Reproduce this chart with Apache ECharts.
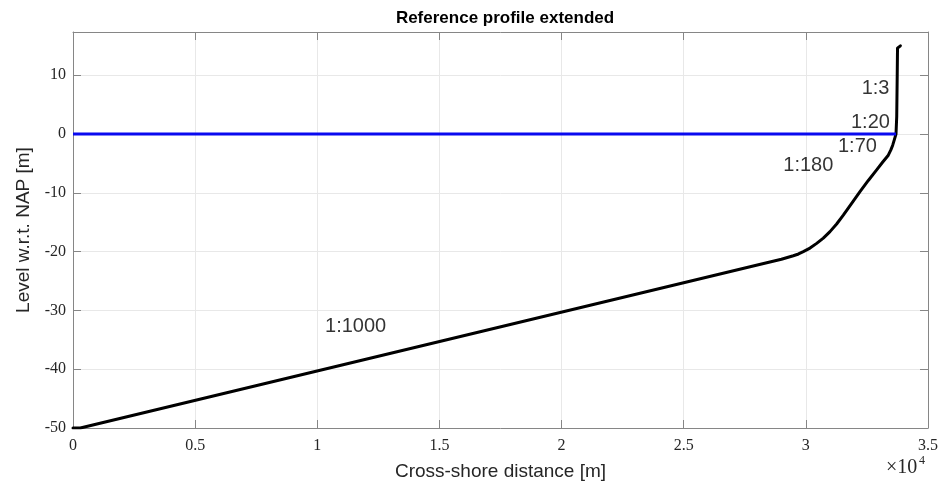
<!DOCTYPE html>
<html>
<head>
<meta charset="utf-8">
<script src="https://cdn.jsdelivr.net/npm/echarts@6/dist/echarts.min.js"></script>
<style>html,body{margin:0;padding:0;background:#fff}#c{width:950px;height:490px}</style>
</head>
<body>
<div id="c"></div>
<script>
// Profile (cross-shore distance [m], level w.r.t. NAP [m])
const profileX = [0, 300, 28100, 29000, 29486, 29700, 29895, 30170, 30443, 30715, 30988, 31260, 31533, 31875, 32216, 32557, 32898, 33140, 33375, 33480, 33555, 33620, 33690, 33720, 33740, 33752, 33800, 33870];
const profileY = [-50, -50, -22.2, -21.3, -20.7, -20.4, -20.0, -19.4, -18.6, -17.7, -16.6, -15.3, -13.8, -11.8, -9.8, -7.9, -6.1, -4.8, -3.6, -2.7, -1.9, -1.0, 0, 3, 10, 14.6, 14.9, 15];
// Water level line (NAP 0)
const waterX = [0, 33690];
const waterY = [0, 0];
// Slope annotations (anchor in data units, left/middle)
const slopeLabels = ['1:1000', '1:180', '1:70', '1:20', '1:3'];
const slopeLabelX = [10316, 29076, 31315, 31847, 32284];
const slopeLabelY = [-32.8, -5.4, -2.2, 1.9, 7.8];
// Axes
const xMin = 0, xMax = 35000, xStep = 5000;
const yMin = -50, yMax = 17.35, yStep = 10;

const chart = echarts.init(document.getElementById('c'), null, {renderer: 'canvas'});
const axisGray = '#868686';
const gridGray = '#e8e8e8';
const tickFont = {fontFamily: 'Liberation Serif', fontSize: 16, color: '#262626'};

function zip(a, b) { return a.map((v, i) => [v, b[i]]); }

chart.setOption({
  animation: false,
  backgroundColor: '#fff',
  title: {
    text: 'Reference profile extended',
    left: 500, top: 5, textAlign: 'center',
    textStyle: {fontFamily: 'Liberation Sans', fontWeight: 'bold', fontSize: 17, color: '#000'}
  },
  grid: {left: 73, right: 22, top: 32, bottom: 62, containLabel: false},
  xAxis: [{
    type: 'value', min: xMin, max: xMax, interval: xStep,
    name: 'Cross-shore distance [m]', nameLocation: 'middle', nameGap: 34,
    nameTextStyle: {fontFamily: 'Liberation Sans', fontSize: 19, color: '#262626'},
    axisLine: {show: true, onZero: false, lineStyle: {color: axisGray, width: 1}},
    axisTick: {show: true, inside: true, length: 8, lineStyle: {color: axisGray}},
    axisLabel: Object.assign({margin: 10, formatter: v => v === 0 ? '0' : String(v / 10000)}, tickFont),
    splitLine: {show: true, lineStyle: {color: gridGray, width: 1}}
  }, {
    type: 'value', position: 'top', min: xMin, max: xMax, interval: xStep,
    axisLine: {show: true, onZero: false, lineStyle: {color: axisGray, width: 1}},
    axisTick: {show: true, inside: true, length: 8, lineStyle: {color: axisGray}},
    axisLabel: {show: false}, splitLine: {show: false}
  }],
  yAxis: [{
    type: 'value', min: yMin, max: yMax, interval: yStep,
    name: 'Level w.r.t. NAP [m]', nameLocation: 'middle', nameGap: 40,
    nameTextStyle: {fontFamily: 'Liberation Sans', fontSize: 19, color: '#262626'},
    axisLine: {show: true, onZero: false, lineStyle: {color: axisGray, width: 1}},
    axisTick: {show: true, inside: true, length: 8, lineStyle: {color: axisGray}},
    axisLabel: Object.assign({margin: 7, showMaxLabel: false}, tickFont),
    splitLine: {show: true, lineStyle: {color: gridGray, width: 1}}
  }, {
    type: 'value', position: 'right', min: yMin, max: yMax, interval: yStep,
    axisLine: {show: true, onZero: false, lineStyle: {color: axisGray, width: 1}},
    axisTick: {show: true, inside: true, length: 8, lineStyle: {color: axisGray}},
    axisLabel: {show: false}, splitLine: {show: false}
  }],
  graphic: [{
    type: 'text', left: 886, top: 458,
    style: {text: '×10', fontSize: 20, fontFamily: 'Liberation Serif', fill: '#262626'}
  }, {
    type: 'text', left: 919, top: 455,
    style: {text: '4', fontSize: 12, fontFamily: 'Liberation Serif', fill: '#262626'}
  }],
  series: [{
    type: 'line', data: zip(profileX, profileY), showSymbol: false,
    lineStyle: {color: '#000', width: 3, join: 'round', cap: 'round'}, z: 3
  }, {
    type: 'line', data: zip(waterX, waterY), showSymbol: false,
    lineStyle: {color: '#0a0af0', width: 3}, z: 4
  }, {
    type: 'scatter', symbolSize: 0, z: 5,
    data: slopeLabels.map((t, i) => ({value: [slopeLabelX[i], slopeLabelY[i]], name: t})),
    label: {
      show: true, position: [0, 0], align: 'left', verticalAlign: 'middle',
      formatter: p => p.name,
      fontFamily: 'Liberation Sans', fontSize: 20, color: '#000000', textBorderWidth: 0
    }
  }]
});
</script>
</body>
</html>
